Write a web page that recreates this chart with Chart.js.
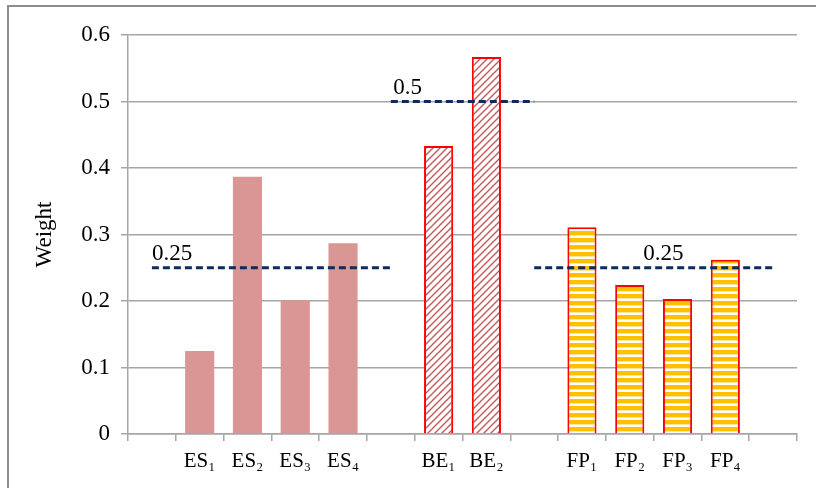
<!DOCTYPE html>
<html>
<head>
<meta charset="utf-8">
<script src="https://cdn.jsdelivr.net/npm/chart.js@4"></script>
<style>
  html, body { margin: 0; padding: 0; background: #ffffff; }
  #wrap { width: 816px; height: 488px; }
</style>
</head>
<body>
<div id="wrap"><canvas id="chart" width="816" height="488"></canvas></div>
<script>
// Category slots; blank slots separate the three groups
const categories = ['', 'ES₁', 'ES₂', 'ES₃', 'ES₄', '', 'BE₁', 'BE₂', '', 'FP₁', 'FP₂', 'FP₃', 'FP₄', ''];

// Weights per group
const esWeights = [0.125, 0.387, 0.201, 0.287];
const beWeights = [0.433, 0.567];
const fpWeights = [0.311, 0.224, 0.203, 0.262];

// Equal-weight reference level for each group
const esReference = 0.25;
const beReference = 0.5;
const fpReference = 0.25;

const yTicks = [0, 0.1, 0.2, 0.3, 0.4, 0.5, 0.6];

// Place a group's values on its own category slots
function groupSeries(prefix, values) {
  let i = 0;
  return categories.map(c => c.startsWith(prefix) ? values[i++] : null);
}

// Reference line runs from the blank slot before a group to the blank slot after it
function referenceSeries(prefix, level) {
  const idx = categories.map((c, i) => c.startsWith(prefix) ? i : -1).filter(i => i >= 0);
  const from = idx[0] - 1, to = idx[idx.length - 1] + 1;
  return categories.map((c, i) => (i >= from && i <= to) ? level : null);
}

// Diagonal hatch fill
function hatchPattern() {
  const s = 7;
  const c = document.createElement('canvas');
  c.width = s; c.height = s;
  const g = c.getContext('2d');
  g.fillStyle = '#ffffff';
  g.fillRect(0, 0, s, s);
  g.strokeStyle = 'rgba(190, 70, 72, 0.9)';
  g.lineWidth = 1.4;
  g.beginPath();
  g.moveTo(-1, s + 1); g.lineTo(s + 1, -1);
  g.moveTo(-1, 1); g.lineTo(1, -1);
  g.moveTo(s - 1, s + 1); g.lineTo(s + 1, s - 1);
  g.stroke();
  return g.createPattern(c, 'repeat');
}

// Horizontal yellow / white stripes
function stripePattern() {
  const c = document.createElement('canvas');
  c.width = 8; c.height = 7;
  const g = c.getContext('2d');
  g.fillStyle = '#ffffff';
  g.fillRect(0, 0, 8, 7);
  g.fillStyle = '#FFC000';
  g.fillRect(0, 0, 8, 4);
  g.fillStyle = '#FFE699';
  g.fillRect(0, 4, 8, 1);
  return g.createPattern(c, 'repeat');
}

const serif = '"Liberation Serif", "Times New Roman", serif';
const gridGray = '#A6A6A6';
const navy = '#0E2A5E';

// Outer frame around the figure
const framePlugin = {
  id: 'frame',
  beforeDraw(chart) {
    const ctx = chart.ctx;
    ctx.save();
    ctx.strokeStyle = '#8C8C8C';
    ctx.lineWidth = 2;
    ctx.beginPath();
    ctx.moveTo(8, 488);
    ctx.lineTo(8, 6);
    ctx.lineTo(816, 6);
    ctx.stroke();
    ctx.restore();
  }
};

// Value labels written above each reference line
const refLabelPlugin = {
  id: 'refLabels',
  afterDatasetsDraw(chart) {
    const ctx = chart.ctx;
    const xs = chart.scales.x, ys = chart.scales.y;
    ctx.save();
    ctx.fillStyle = '#000000';
    ctx.font = '23px ' + serif;
    ctx.textBaseline = 'alphabetic';
    ctx.textAlign = 'left';
    chart.data.datasets.forEach(ds => {
      if (ds.type !== 'line' || ds.labelAt === undefined) return;
      const level = ds.data.find(v => v !== null);
      const x = xs.getPixelForValue(ds.labelAt);
      const y = ys.getPixelForValue(level) - 8;
      ctx.fillText(String(level), x, y);
    });
    ctx.restore();
  }
};

const refLine = (prefix, level, labelAt) => ({
  type: 'line',
  data: referenceSeries(prefix, level),
  borderColor: navy,
  borderWidth: 3,
  borderDash: [7, 4],
  pointRadius: 0,
  fill: false,
  spanGaps: false,
  order: 0,
  labelAt: labelAt
});

const bar = (prefix, values, fill, border, bw) => ({
  type: 'bar',
  data: groupSeries(prefix, values),
  backgroundColor: fill,
  borderColor: border,
  borderWidth: bw,
  grouped: false,
  barPercentage: 1,
  categoryPercentage: 0.61,
  order: 1
});

new Chart(document.getElementById('chart'), {
  data: {
    labels: categories,
    datasets: [
      refLine('ES', esReference, 0.0),
      refLine('BE', beReference, 5.05),
      refLine('FP', fpReference, 10.28),
      bar('ES', esWeights, '#D99694', '#D99694', 0),
      bar('BE', beWeights, hatchPattern(), '#FF0000', 2),
      bar('FP', fpWeights, stripePattern(), '#FF0000', 2)
    ]
  },
  options: {
    responsive: false,
    animation: false,
    events: [],
    layout: { padding: { left: 0, right: 19, top: 35, bottom: 0 } },
    plugins: {
      legend: { display: false },
      tooltip: { enabled: false }
    },
    scales: {
      x: {
        type: 'category',
        offset: true,
        grid: {
          offset: true,
          drawOnChartArea: false,
          drawTicks: true,
          tickLength: 7,
          color: gridGray,
          lineWidth: 1.5
        },
        border: { color: gridGray, width: 1.5 },
        ticks: {
          color: '#000000',
          font: { family: serif, size: 21 },
          padding: 8,
          maxRotation: 0,
          autoSkip: false
        },
        afterFit(scale) { scale.height = 54; }
      },
      y: {
        min: 0,
        max: 0.6,
        afterBuildTicks(scale) { scale.ticks = yTicks.map(v => ({ value: v })); },
        grid: {
          color: gridGray,
          lineWidth: 1.5,
          drawTicks: true,
          tickLength: 7
        },
        border: { color: gridGray, width: 1.5 },
        ticks: {
          color: '#000000',
          font: { family: serif, size: 23 },
          padding: 11,
          callback: v => String(v)
        },
        title: {
          display: true,
          text: 'Weight',
          color: '#000000',
          font: { family: serif, size: 23 },
          padding: { top: 31, bottom: 0 }
        },
        afterFit(scale) { scale.width = 128; }
      }
    }
  },
  plugins: [framePlugin, refLabelPlugin]
});
</script>
</body>
</html>
